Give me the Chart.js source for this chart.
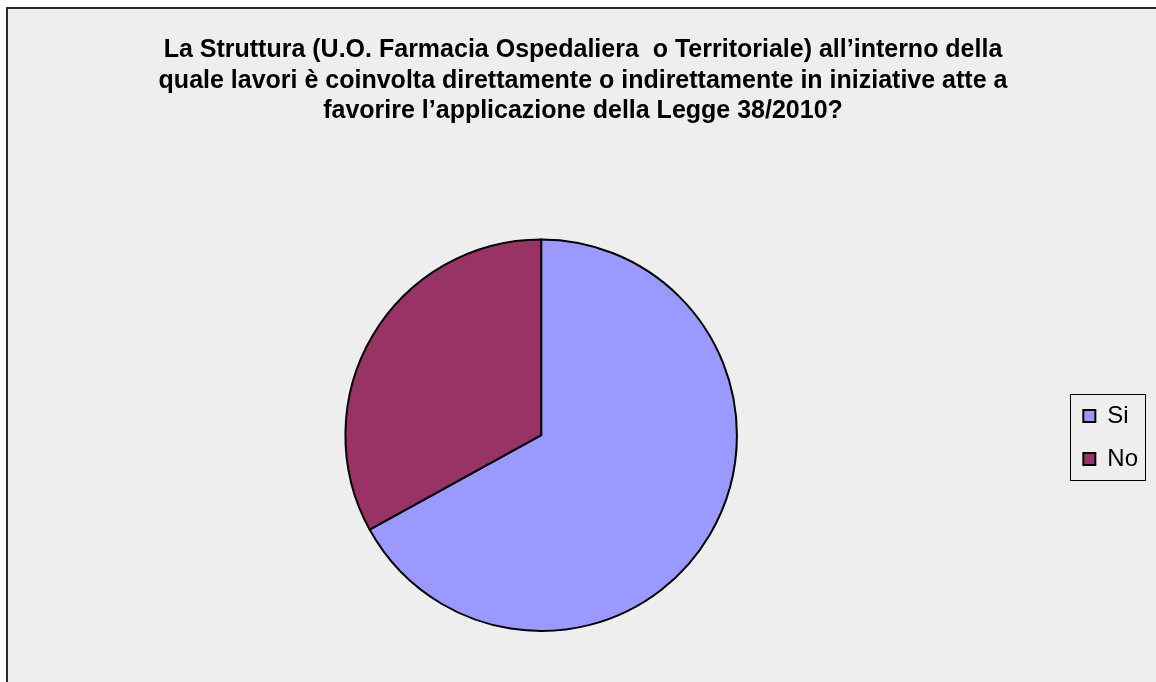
<!DOCTYPE html>
<html><head><meta charset="utf-8">
<script src="https://cdn.jsdelivr.net/npm/chart.js@4/dist/chart.umd.min.js"></script>
<style>html,body{margin:0;padding:0;background:#ffffff;}#wrap{width:1156px;height:682px;}</style>
</head><body><div id="wrap"><canvas id="c" width="1156" height="682"></canvas></div>
<script>
const titleLines = [
  'La Struttura (U.O. Farmacia Ospedaliera  o Territoriale) all\u2019interno della',
  'quale lavori \u00e8 coinvolta direttamente o indirettamente in iniziative atte a',
  'favorire l\u2019applicazione della Legge 38/2010?'
];
const categories = ['Si', 'No'];
const values = [67, 33];
const sliceColors = ['#9999FF', '#993366'];

const framePlugin = {
  id: 'frame',
  beforeDraw(chart) {
    const ctx = chart.ctx;
    ctx.save();
    ctx.fillStyle = '#eeeeee';
    ctx.fillRect(6, 7, chart.width - 6, chart.height - 7);
    ctx.strokeStyle = '#2a2a2a';
    ctx.lineWidth = 2;
    ctx.beginPath();
    ctx.moveTo(7, chart.height);
    ctx.lineTo(7, 8);
    ctx.lineTo(chart.width, 8);
    ctx.stroke();
    ctx.restore();
  },
  afterDraw(chart) {
    const boxes = chart.legend && chart.legend.legendHitBoxes;
    if (!boxes || !boxes.length) return;
    let l = Infinity, t = Infinity, r = -Infinity, b = -Infinity;
    boxes.forEach(h => {
      l = Math.min(l, h.left); t = Math.min(t, h.top);
      r = Math.max(r, h.left + h.width); b = Math.max(b, h.top + h.height);
    });
    const ctx = chart.ctx;
    ctx.save();
    ctx.strokeStyle = '#000000';
    ctx.lineWidth = 1;
    ctx.strokeRect(Math.round(l - 13) + 0.5, Math.round(t - 10) + 0.5, Math.round(r - l + 20), Math.round(b - t + 19));
    ctx.restore();
  }
};

new Chart(document.getElementById('c'), {
  type: 'pie',
  data: {
    labels: categories,
    datasets: [{
      data: values,
      backgroundColor: sliceColors,
      borderColor: '#000000',
      borderWidth: 2,
      borderJoinStyle: 'miter'
    }]
  },
  options: {
    responsive: false,
    animation: false,
    devicePixelRatio: 1,
    layout: { padding: { left: 18, right: 8, top: 0, bottom: 50 } },
    plugins: {
      title: {
        display: true,
        text: titleLines,
        color: '#000000',
        font: { family: 'Liberation Sans', size: 25, weight: 'bold', lineHeight: 1.22 },
        padding: { top: 35, bottom: 112 }
      },
      legend: {
        display: true,
        position: 'right',
        title: { display: true, text: ' ', font: { size: 1, lineHeight: 1 }, padding: { top: 242, bottom: 0 } },
        labels: {
          color: '#000000',
          font: { family: 'Liberation Sans', size: 24 },
          boxWidth: 12,
          boxHeight: 12,
          padding: 19
        }
      },
      tooltip: { enabled: false }
    }
  },
  plugins: [framePlugin]
});
</script>
</body></html>
